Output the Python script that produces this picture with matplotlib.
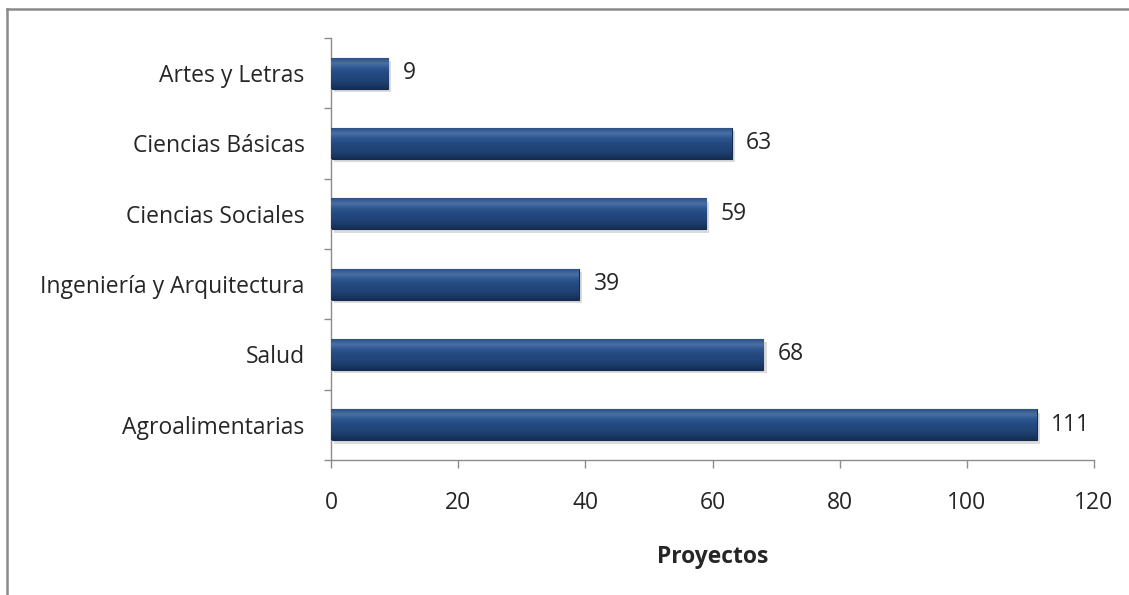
import matplotlib
matplotlib.use('Agg')
import matplotlib.pyplot as plt
import numpy as np
from matplotlib.colors import LinearSegmentedColormap
from matplotlib.lines import Line2D

# Data (bottom to top)
categories = ['Agroalimentarias', 'Salud', 'Ingeniería y Arquitectura',
              'Ciencias Sociales', 'Ciencias Básicas', 'Artes y Letras']
proyectos = [111, 68, 39, 59, 63, 9]
x_ticks = [0, 20, 40, 60, 80, 100, 120]

plt.rcParams['font.family'] = ['Open Sans', 'DejaVu Sans']
FS = 16.5

fig = plt.figure(figsize=(11.29, 5.95), dpi=100)
ax = fig.add_axes([0.2932, 0.2269, 0.6758, 0.7095])

y = np.arange(len(categories))
bar_h = 0.44

# soft shadow under bars
ax.barh(y - 0.05, proyectos, height=bar_h, left=0.5, color='#b0b0b0',
        alpha=0.45, zorder=1, linewidth=0)
bars = ax.barh(y, proyectos, height=bar_h, color='#1f3f6e', zorder=2,
               edgecolor='#142b4f', linewidth=0.8)

# vertical gradient on each bar (bottom -> top)
cmap = LinearSegmentedColormap.from_list(
    'bar', ['#152d54', '#1c3c69', '#21457a', '#24497f', '#2c5590',
            '#4a70a3', '#2b5188'])
grad = np.linspace(0, 1, 100).reshape(-1, 1)
for b in bars:
    x0, y0 = b.get_x(), b.get_y()
    w, h = b.get_width(), b.get_height()
    im = ax.imshow(grad, cmap=cmap, aspect='auto', origin='lower',
                   extent=[x0, x0 + w, y0, y0 + h], zorder=3)
    im.set_clip_path(b)

for yi, v in zip(y, proyectos):
    ax.text(v + 2.3, yi, str(v), va='center', ha='left', fontsize=FS,
            color='#262626', zorder=4)

ax.set_xlim(0, 120)
ax.set_ylim(-0.5, len(categories) - 0.5)
ax.set_xticks(x_ticks)
ax.set_yticks(y)
ax.set_yticklabels(categories)
ax.set_yticks(np.arange(-0.5, len(categories), 1), minor=True)

ax.tick_params(axis='x', length=6, width=1, color='#8c8c8c', pad=16,
               labelsize=FS, labelcolor='#262626')
ax.tick_params(axis='y', which='major', length=0, pad=19,
               labelsize=FS, labelcolor='#262626')
ax.tick_params(axis='y', which='minor', length=5, width=1, color='#8c8c8c')

for side in ['top', 'right']:
    ax.spines[side].set_visible(False)
for side in ['left', 'bottom']:
    ax.spines[side].set_color('#8c8c8c')
    ax.spines[side].set_linewidth(1)

ax.set_xlabel('Proyectos', fontsize=FS, fontweight='bold', color='#262626',
              labelpad=22)

# chart frame
fig.add_artist(Line2D([7 / 1129, 7 / 1129], [0, 1 - 9 / 595],
                      transform=fig.transFigure, color='#8a8a8a', lw=1.8))
fig.add_artist(Line2D([7 / 1129, 1], [1 - 9 / 595, 1 - 9 / 595],
                      transform=fig.transFigure, color='#8a8a8a', lw=1.8))

fig.savefig('out.png', dpi=100)
